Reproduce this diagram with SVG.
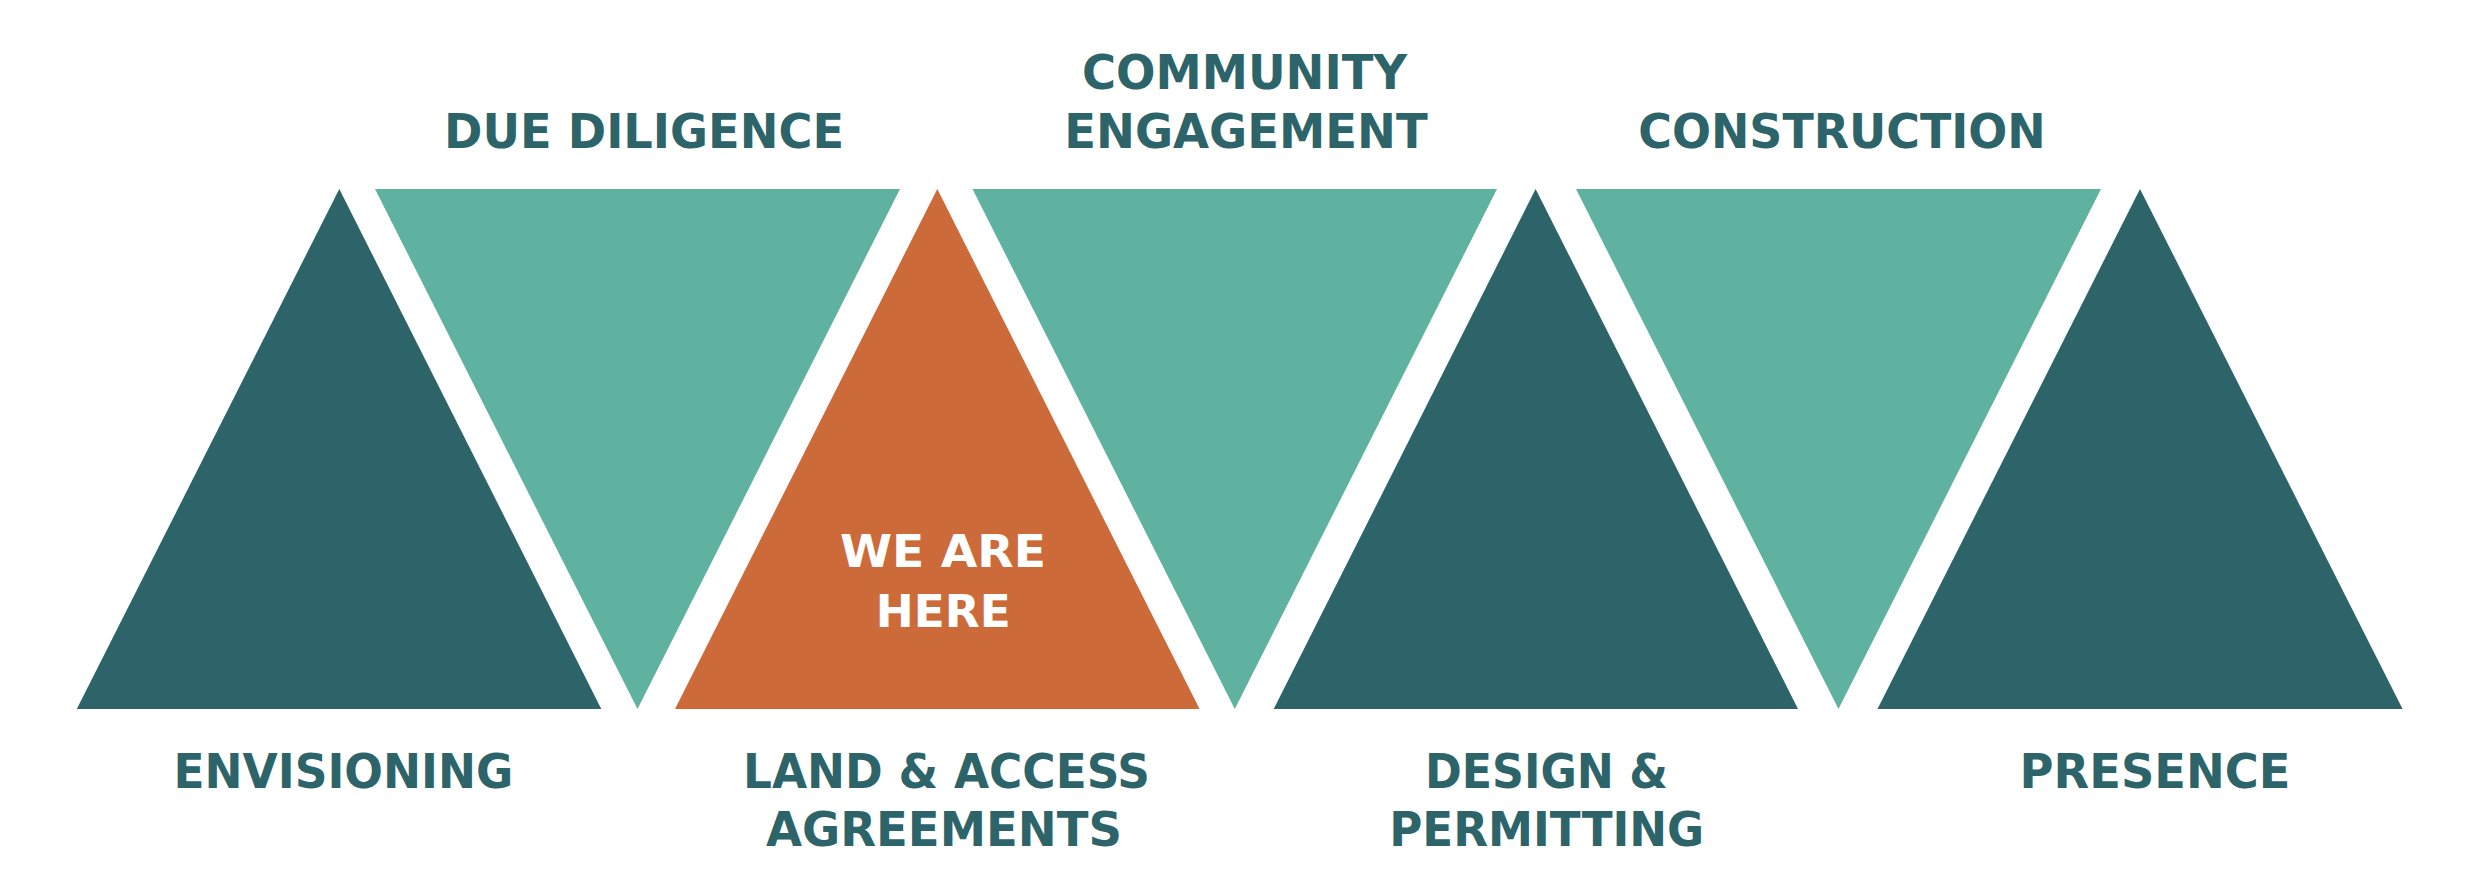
<svg xmlns="http://www.w3.org/2000/svg" width="2470" height="896" viewBox="0 0 2470 896">
<style>
.dark{fill:#2C6469}
.light{fill:#5FB29F}
.orange{fill:#CD6A3A}
.lbl{font-family:"DejaVu Sans","Liberation Sans",sans-serif;font-weight:700;font-size:48px;fill:#2C6469;text-anchor:middle}
.here{font-family:"DejaVu Sans","Liberation Sans",sans-serif;font-weight:700;font-size:45px;fill:#FFFFFF;text-anchor:middle}
</style>
<rect width="2470" height="896" fill="#FFFFFF"/>
<g id="envisioning">
<polygon class="dark" points="339.3,189 601.3,709 76.8,709"/>
<text class="lbl" x="343.4" y="788" textLength="340" lengthAdjust="spacingAndGlyphs">ENVISIONING</text>
</g>
<g id="due-diligence">
<polygon class="light" points="375,189 900,189 637.5,709"/>
<text class="lbl" x="644" y="148" textLength="400" lengthAdjust="spacingAndGlyphs">DUE DILIGENCE</text>
</g>
<g id="land-access">
<polygon class="orange" points="937.3,189 1199.6,709 675,709"/>
<text class="here" x="943" y="567" textLength="206" lengthAdjust="spacingAndGlyphs">WE ARE</text>
<text class="here" x="943.3" y="627" textLength="135" lengthAdjust="spacingAndGlyphs">HERE</text>
<text class="lbl" x="946.5" y="788" textLength="407" lengthAdjust="spacingAndGlyphs">LAND &amp; ACCESS</text>
<text class="lbl" x="944" y="846" textLength="356" lengthAdjust="spacingAndGlyphs">AGREEMENTS</text>
</g>
<g id="community-engagement">
<polygon class="light" points="972.5,189 1497,189 1234.8,709"/>
<text class="lbl" x="1244.5" y="89" textLength="325" lengthAdjust="spacingAndGlyphs">COMMUNITY</text>
<text class="lbl" x="1246" y="148" textLength="363.5" lengthAdjust="spacingAndGlyphs">ENGAGEMENT</text>
</g>
<g id="design-permitting">
<polygon class="dark" points="1535.6,189 1798,709 1273.7,709"/>
<text class="lbl" x="1546.5" y="788" textLength="243" lengthAdjust="spacingAndGlyphs">DESIGN &amp;</text>
<text class="lbl" x="1546.7" y="846" textLength="315" lengthAdjust="spacingAndGlyphs">PERMITTING</text>
</g>
<g id="construction">
<polygon class="light" points="1576,189 2101,189 1838.5,709"/>
<text class="lbl" x="1842" y="148" textLength="407.5" lengthAdjust="spacingAndGlyphs">CONSTRUCTION</text>
</g>
<g id="presence">
<polygon class="dark" points="2140,189 2402.6,709 1877.5,709"/>
<text class="lbl" x="2155" y="788" textLength="271" lengthAdjust="spacingAndGlyphs">PRESENCE</text>
</g>
<g id="connectors"></g>
</svg>
